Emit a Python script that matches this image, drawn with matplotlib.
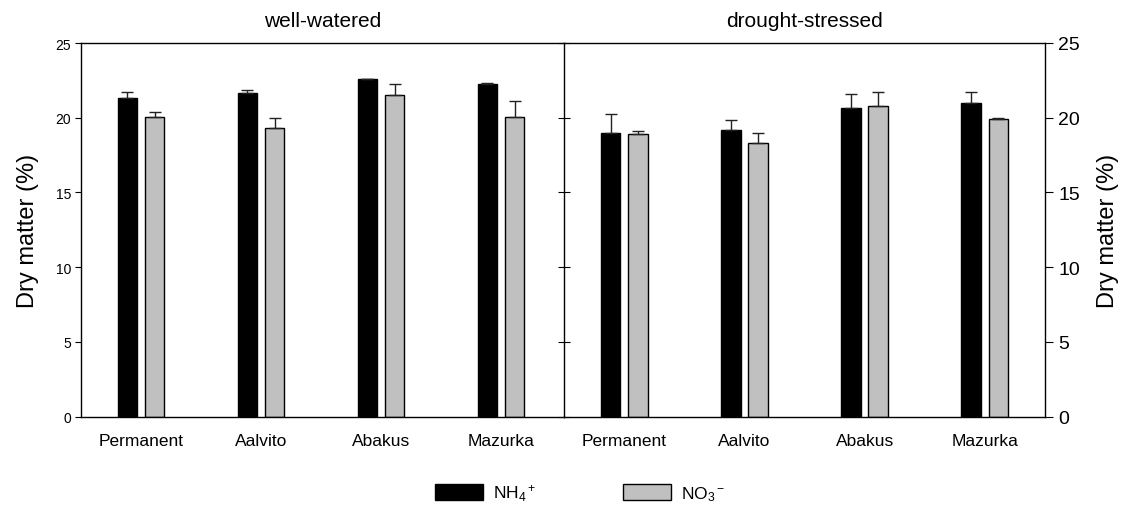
import matplotlib
matplotlib.use("Agg")
import matplotlib.pyplot as plt
from matplotlib.patches import Patch
import numpy as np

plt.rcParams['font.family'] = ['Liberation Sans', 'DejaVu Sans']
plt.rcParams['mathtext.fontset'] = 'custom'
plt.rcParams['mathtext.rm'] = 'Liberation Sans'
plt.rcParams['mathtext.it'] = 'Liberation Sans:italic'

cultivars = ["Permanent", "Aalvito", "Abakus", "Mazurka"]
panels = ["well-watered", "drought-stressed"]
series = ["NH$_4$$^+$", "NO$_3$$^-$"]

# mean dry matter (%) and standard errors per panel
ww_nh4 = [21.35, 21.65, 22.57, 22.28]
ww_nh4_se = [0.38, 0.22, 0.04, 0.03]
ww_no3 = [20.03, 19.29, 21.54, 20.05]
ww_no3_se = [0.35, 0.71, 0.70, 1.05]

ds_nh4 = [18.95, 19.16, 20.67, 20.96]
ds_nh4_se = [1.32, 0.71, 0.92, 0.78]
ds_no3 = [18.93, 18.29, 20.80, 19.93]
ds_no3_se = [0.16, 0.71, 0.90, 0.07]

yticks = [0, 5, 10, 15, 20, 25]

colors = ["#000000", "#c0c0c0"]
bar_w = 0.163
offset = 0.113

fig = plt.figure(figsize=(11.3, 5.1), dpi=100)
ax1 = fig.add_axes([81/1130, 1-417.5/510, 483/1130, 373.5/510])
ax2 = fig.add_axes([564/1130, 1-417.5/510, 481/1130, 373.5/510])
ax2.patch.set_visible(False)

x = np.arange(len(cultivars))

def draw(ax, a, a_se, b, b_se):
    for vals, se, col, dx in ((a, a_se, colors[0], -offset), (b, b_se, colors[1], offset)):
        ax.bar(x + dx, vals, width=bar_w, color=col, edgecolor="black",
               linewidth=1.0, zorder=2)
        ax.errorbar(x + dx, vals, yerr=[np.zeros(len(vals)), se], fmt="none",
                    ecolor="#222222", elinewidth=1.0, capsize=4, capthick=1.0,
                    zorder=3)
    ax.set_ylim(0, 25)
    ax.set_yticks(yticks)
    ax.set_xticks(x)
    ax.set_xticklabels(cultivars, fontsize=12.5)
    ax.tick_params(axis="x", length=0, pad=12)
    for s in ax.spines.values():
        s.set_linewidth(1.0)
        s.set_zorder(4)

draw(ax1, ww_nh4, ww_nh4_se, ww_no3, ww_no3_se)
draw(ax2, ds_nh4, ds_nh4_se, ds_no3, ds_no3_se)

ax1.set_xlim(-0.5, 3.525)
ax2.set_xlim(-0.5, 3.5)

ax1.tick_params(axis="y", left=True, right=True, labelleft=True, labelright=False,
                direction="out", length=4, labelsize=10, pad=3)
for t in ax1.yaxis.get_major_ticks():
    t.tick2line.set_marker("_")
    t.tick2line.set_markersize(9)

ax2.spines["left"].set_visible(False)
ax2.tick_params(axis="y", left=False, labelleft=False, right=True, labelright=True,
                direction="out", length=5.5, labelsize=14, pad=4)

ax1.set_ylabel("Dry matter (%)", fontsize=17, labelpad=12)
ax2.yaxis.set_label_position("right")
ax2.set_ylabel("Dry matter (%)", fontsize=17, labelpad=12)

ax1.set_title(panels[0], fontsize=15, pad=12)
ax2.set_title(panels[1], fontsize=15, pad=12)

handles = [Patch(facecolor=colors[0], edgecolor="black", linewidth=1.0),
           Patch(facecolor=colors[1], edgecolor="black", linewidth=1.0)]
fig.legend(handles, series, loc="center", bbox_to_anchor=(580/1130, 1-494/510),
           ncol=2, frameon=False, fontsize=12.5, handlelength=2.75,
           handleheight=1.1, handletextpad=0.6, columnspacing=5.0)

fig.savefig("out.png", dpi=100)
